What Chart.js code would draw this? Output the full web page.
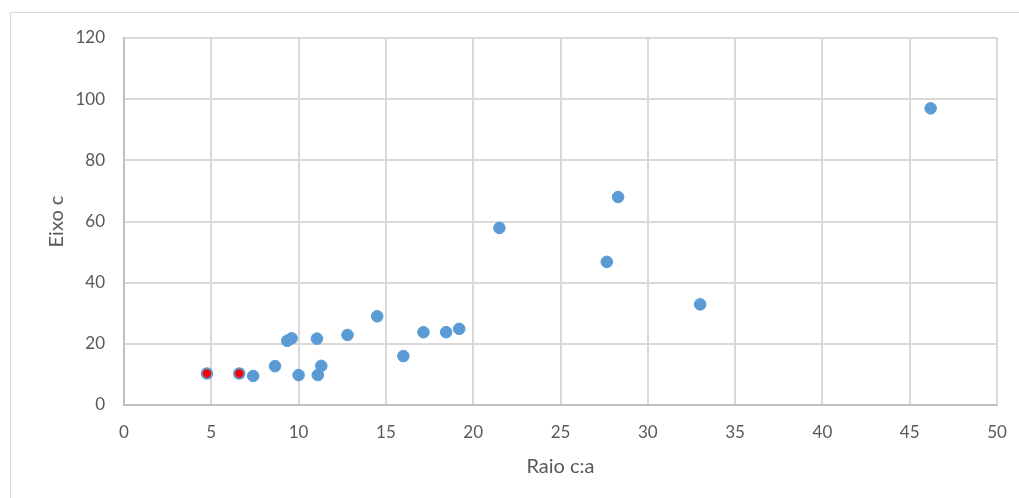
<!DOCTYPE html>
<html>
<head>
<meta charset="utf-8">
<script src="https://cdn.jsdelivr.net/npm/chart.js@4"></script>
<style>
  html, body { margin: 0; padding: 0; background: #fff; overflow: hidden; }
  #frame { position: absolute; left: 10px; top: 12px; width: 1100px; height: 600px; border: 1px solid #d9d9d9; }
  #wrap { position: absolute; left: 0; top: 0; width: 1019px; height: 498px; }
</style>
</head>
<body>
<div id="frame"></div>
<div id="wrap"><canvas id="chart"></canvas></div>
<script>
// scatter data
const raio = [7.4, 8.65, 9.35, 9.6, 10.0, 11.05, 11.1, 11.3, 12.8, 14.5, 16.0, 17.15, 18.45, 19.2, 21.5, 27.65, 28.3, 33.0, 46.2];
const eixo = [9.5, 12.7, 21.0, 21.8, 9.8, 21.7, 9.8, 12.8, 22.9, 29.0, 16.0, 23.8, 23.8, 24.9, 57.9, 46.8, 68.0, 32.9, 97.0];
// highlighted (red) points
const raioRed = [4.75, 6.6];
const eixoRed = [10.3, 10.3];

const xTicks = [0, 5, 10, 15, 20, 25, 30, 35, 40, 45, 50];
const yTicks = [0, 20, 40, 60, 80, 100, 120];

const BLUE = '#5B9BD5';
const GRID = '#d9d9d9';
const TEXT = '#595959';
const FONT = 'Lato, "Open Sans", "Liberation Sans", sans-serif';

function toPoints(xs, ys) {
  return xs.map((x, i) => ({ x: x, y: ys[i] }));
}

new Chart(document.getElementById('chart'), {
  type: 'scatter',
  data: {
    datasets: [
      {
        data: toPoints(raioRed, eixoRed),
        backgroundColor: '#FF0000',
        borderColor: BLUE,
        borderWidth: 2,
        pointRadius: 5.2,
        order: 0
      },
      {
        data: toPoints(raio, eixo),
        backgroundColor: BLUE,
        borderColor: BLUE,
        borderWidth: 1,
        pointRadius: 5.8,
        order: 1
      }
    ]
  },
  options: {
    responsive: true,
    maintainAspectRatio: false,
    animation: false,
    layout: { padding: { top: 38, right: 22, bottom: 0, left: 0 } },
    plugins: { legend: { display: false }, tooltip: { enabled: false } },
    scales: {
      x: {
        type: 'linear',
        min: 0, max: 50,
        afterBuildTicks: s => { s.ticks = xTicks.map(v => ({ value: v })); },
        afterFit: s => { s.height = 93; s.paddingLeft = 0; s.paddingRight = 0; },
        grid: { color: GRID, lineWidth: 2, drawTicks: false },
        border: { color: '#bfbfbf', width: 2 },
        ticks: { color: TEXT, padding: 17, font: { family: FONT, size: 17 } },
        title: { display: true, text: 'Raio c:a', color: TEXT, padding: { top: 0, bottom: 19 }, font: { family: FONT, size: 20 } }
      },
      y: {
        type: 'linear',
        min: 0, max: 120,
        afterBuildTicks: s => { s.ticks = yTicks.map(v => ({ value: v })); },
        afterFit: s => { s.width = 124; s.paddingTop = 0; s.paddingBottom = 0; },
        grid: { color: GRID, lineWidth: 2, drawTicks: false },
        border: { color: '#bfbfbf', width: 2 },
        ticks: { color: TEXT, padding: 19, font: { family: FONT, size: 17 } },
        title: { display: true, text: 'Eixo c', color: TEXT, padding: { top: 45, bottom: 0 }, font: { family: FONT, size: 20 } }
      }
    }
  }
});
</script>
</body>
</html>
